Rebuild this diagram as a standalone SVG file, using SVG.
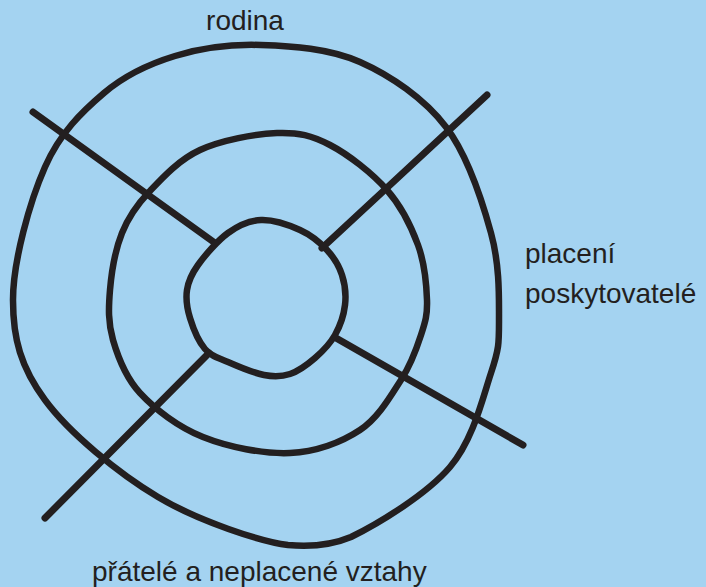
<svg xmlns="http://www.w3.org/2000/svg" width="706" height="587" viewBox="0 0 706 587">
<style>
.ring{fill:none;stroke:#231f20;stroke-width:6.5;stroke-linejoin:round}
.spoke{fill:none;stroke:#231f20;stroke-width:7;stroke-linecap:round}
.lbl{font-family:"Liberation Sans",Arial,sans-serif;font-size:28px;fill:#231f20}
</style>
<rect width="706" height="587" fill="#a4d3f1"/>
<g id="rings">
<path id="outer" class="ring" d="M261,45 C291.8,46 329.2,48.3 360,62 C390.8,75.7 424.2,98.5 446,127 C467.8,155.5 482.2,200.8 491,233 C499.8,265.2 499,296.7 499,320 C499,343.3 499.2,348.5 491,373 C482.8,397.5 473.3,439.7 450,467 C426.7,494.3 378,524 351,537 C332,545 310,547 288,545 C262,542 198.5,521.2 158,497 C117.5,472.8 69.2,432.8 45,400 C20.8,367.2 13,338.8 13,300 C13,261.2 29.8,201.5 45,167 C60.2,132.5 82.3,111.5 104,93 C125.7,74.5 148.8,64 175,56 C201.2,48 230.2,44 261,45 Z"/>
<path id="middle" class="ring" d="M277,133 C298.7,132.2 311.7,135.5 330,145 C348.3,154.5 372.3,173.3 387,190 C401.7,206.7 411.3,226.7 418,245 C424.7,263.3 426.5,285 427,300 C427.5,315 425.3,321.7 421,335 C416.7,348.3 411.2,364.2 401,380 C390.8,395.8 378.5,417.8 360,430 C341.5,442.2 316.2,451.8 290,453 C263.8,454.2 228,447 203,437 C178,427 155,409.2 140,393 C125,376.8 118,357.2 113,340 C108,322.8 108.5,307.8 110,290 C111.5,272.2 115.5,249.3 122,233 C128.5,216.7 136,205.8 149,192 C162,178.2 178.7,159.8 200,150 C221.3,140.2 255.3,133.8 277,133 Z"/>
<path id="inner" class="ring" d="M261,220 C273,219.5 289,225 300,230 C311,235 320,242.5 327,250 C334,257.5 339,265.8 342,275 C345,284.2 346.2,295 345,305 C343.8,315 340,326.2 335,335 C330,343.8 322.5,351.5 315,358 C307.5,364.5 298.5,371.2 290,374 C281.5,376.8 274.3,377 264,375 C253.7,373 237.8,366.3 228,362 C218.2,357.7 211.3,356.3 205,349 C198.7,341.7 193,327.8 190,318 C187,308.2 185.7,298.8 187,290 C188.3,281.2 191.2,274.5 198,265 C204.8,255.5 217.7,240.5 228,233 C238.3,225.5 249,220.5 261,220 Z"/>
</g>
<g id="connectors">
<line class="spoke" x1="33" y1="112" x2="215" y2="243"/>
<line class="spoke" x1="487" y1="95" x2="322" y2="248"/>
<line class="spoke" x1="209" y1="353" x2="45" y2="518"/>
<line class="spoke" x1="336" y1="338" x2="523" y2="445"/>
</g>
<g id="label-rodina"><text class="lbl" x="245" y="30" text-anchor="middle">rodina</text></g>
<g id="label-placeni"><text class="lbl" x="525" y="263">placení</text><text class="lbl" x="525" y="303">poskytovatelé</text></g>
<g id="label-pratele"><text class="lbl" x="92" y="581">přátelé a neplacené vztahy</text></g>
</svg>
